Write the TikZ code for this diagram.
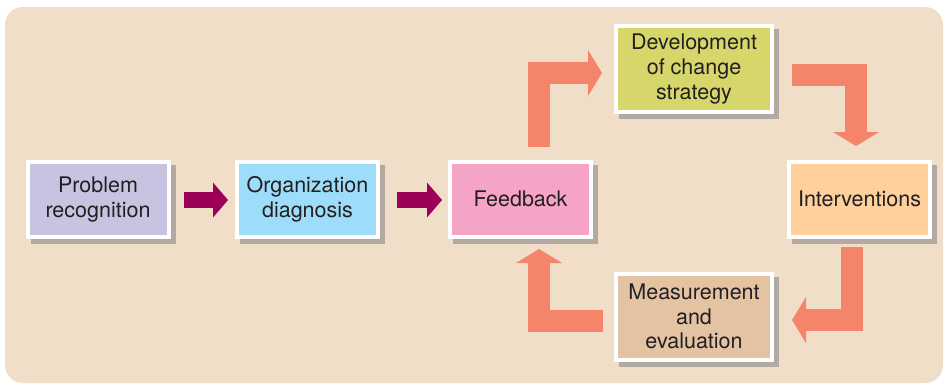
\documentclass[tikz,border=0pt]{standalone}
\usepackage{fontspec}
\setmainfont{TeX Gyre Heros}
\usetikzlibrary{arrows.meta,shadows}
\definecolor{bg}{HTML}{F0DEC8}
\definecolor{cPR}{HTML}{C7C3E1}
\definecolor{cOD}{HTML}{9EDDF9}
\definecolor{cFB}{HTML}{F5A4C7}
\definecolor{cDV}{HTML}{D6D66B}
\definecolor{cIN}{HTML}{FDD09C}
\definecolor{cME}{HTML}{E3C3A2}
\definecolor{magarrow}{HTML}{9C0059}
\definecolor{orarrow}{HTML}{F4856A}
\definecolor{shadowc}{HTML}{B2AAA2}
\definecolor{txt}{HTML}{231F20}
\begin{document}
\begin{tikzpicture}[x=1pt,y=-1pt,
  box/.style={draw=white, line width=4pt, text=txt, align=center,
    font=\fontsize{21.5}{24.5}\selectfont, inner sep=0pt,
    general shadow={fill=shadowc, draw=shadowc, line width=4pt,
      shadow xshift=5pt, shadow yshift=-5pt}},
  smallbox/.style={box, minimum width=141pt, minimum height=75pt},
  bigbox/.style={box, minimum width=156pt, minimum height=86pt},
  magarr/.style={draw=magarrow, line width=16pt,
    -{Triangle[width=35pt,length=15pt,line width=0pt]}},
  orarr/.style={draw=orarrow, line width=22pt, line join=miter,
    -{Triangle[width=46pt,length=14pt,line width=0pt]}}]
\useasboundingbox (0,0) rectangle (944,384);
\fill[bg] (5,7) [rounded corners=18pt] rectangle (943,383);

\node[smallbox, fill=cPR] (PR) at (98,199.5) {Problem\\recognition};
\node[smallbox, fill=cOD] (OD) at (307.5,199.5) {Organization\\diagnosis};
\node[smallbox, fill=cFB] (FB) at (520.5,199) {Feedback};
\node[smallbox, fill=cIN] (IN) at (859.5,199) {Interventions};
\node[bigbox, fill=cDV] (DV) at (694,69) {Development\\of change\\strategy};
\node[bigbox, fill=cME] (ME) at (694,316.5) {Measurement\\and\\evaluation};

% straight arrows
\coordinate (m1s) at (184,200);
\coordinate (m1e) at (228,200);
\coordinate (m2s) at (397,200);
\coordinate (m2e) at (442,200);
\draw[magarr] (m1s) -- (m1e);
\draw[magarr] (m2s) -- (m2e);

% loop arrows
\coordinate (o1s) at (538.5,147);
\coordinate (o1e) at (602,73);
\coordinate (o2s) at (792,74.5);
\coordinate (o2e) at (856,146);
\coordinate (o3s) at (851.5,247);
\coordinate (o3e) at (792,320);
\coordinate (o4s) at (603,320.5);
\coordinate (o4e) at (539,249);
\draw[orarr] (o1s) |- (o1e);
\draw[orarr] (o2s) -| (o2e);
\draw[orarr] (o3s) |- (o3e);
\draw[orarr] (o4s) -| (o4e);
\end{tikzpicture}
\end{document}
